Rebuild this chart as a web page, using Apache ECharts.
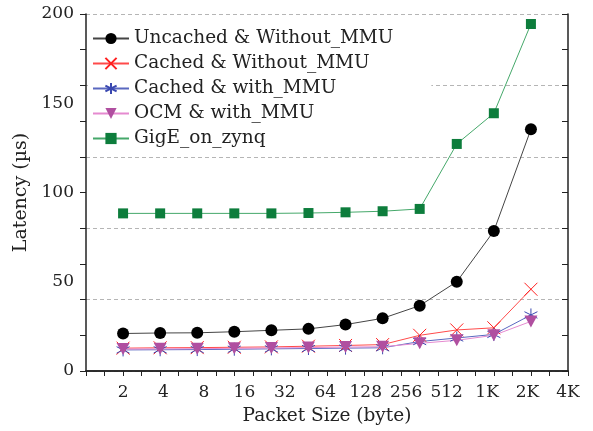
<!DOCTYPE html>
<html>
<head>
<meta charset="utf-8">
<script src="https://cdn.jsdelivr.net/npm/echarts@6/dist/echarts.min.js"></script>
<style>
    html, body { margin: 0; padding: 0; background: #fff; }
    #latency { width: 593px; height: 431px; }
</style>
</head>
<body>
<div id="latency"></div>
<script>
// packet sizes (tick labels on the x axis)
var sizeLabels = ['2', '4', '8', '16', '32', '64', '128', '256', '512', '1K', '2K', '4K'];
// y axis
var yLabelVals = [0, 50, 100, 150, 200];
var yTickVals = [0, 20, 40, 60, 80, 100, 120, 140, 160, 180, 200];

// latency in us, one value per measured point (12 points)
var uncachedNoMmu = [21.0, 21.3, 21.4, 22.0, 22.8, 23.6, 26.0, 29.5, 36.6, 50.0, 78.4, 135.4];
var cachedNoMmu   = [12.8, 13.0, 13.1, 13.3, 13.5, 13.9, 14.3, 14.8, 20.0, 23.0, 24.2, 45.8];
var cachedMmu     = [11.8, 11.9, 12.0, 12.2, 12.4, 12.6, 12.8, 13.0, 16.5, 18.5, 20.5, 31.4];
var ocmMmu        = [12.3, 12.4, 12.5, 12.7, 12.9, 13.1, 13.4, 13.6, 15.5, 17.2, 20.0, 27.8];
var gigeZynq      = [88.3, 88.3, 88.3, 88.3, 88.3, 88.5, 88.9, 89.5, 90.8, 127.2, 144.4, 194.4];

var serif = 'DejaVu Serif';

function pts(arr) {
    var out = [];
    for (var i = 0; i < arr.length; i++) {
        out.push([i + 1, arr[i]]);
    }
    return out;
}

// labels are spread evenly from the first point to the right border
var nPts = uncachedNoMmu.length;
var labelStep = nPts / (sizeLabels.length - 1);
var labelPos = [];
for (var i = 0; i < sizeLabels.length; i++) {
    labelPos.push(1 + i * labelStep);
}
var xTicks = [];
for (var t = 0; t <= (nPts + 1) * 2; t++) {
    xTicks.push(t / 2);
}

var chart = echarts.init(document.getElementById('latency'));
var option = {
    animation: false,
    textStyle: { fontFamily: serif },
    grid: { left: 86, right: 25, top: 14, bottom: 60 },
    legend: {
        orient: 'vertical',
        left: 88,
        top: 24,
        padding: [5, 38, 4, 4],
        backgroundColor: '#fff',
        itemWidth: 36,
        itemHeight: 14,
        itemGap: 6,
        textStyle: { fontFamily: serif, fontSize: 18.5, color: '#222' },
        data: ['Uncached & Without_MMU', 'Cached & Without_MMU', 'Cached & with_MMU', 'OCM & with_MMU', 'GigE_on_zynq']
    },
    xAxis: [
        {
            type: 'value',
            position: 'bottom',
            min: 0,
            max: nPts + 1,
            name: 'Packet Size (byte)',
            nameLocation: 'middle',
            nameGap: 36,
            nameTextStyle: { fontFamily: serif, fontSize: 18.5, color: '#222' },
            axisLine: { lineStyle: { color: '#222', width: 1.5 } },
            axisTick: { inside: false, length: 5, customValues: xTicks, lineStyle: { color: '#222' } },
            axisLabel: {
                customValues: labelPos,
                margin: 13,
                fontFamily: serif,
                fontSize: 17,
                color: '#222',
                formatter: function (v) {
                    return sizeLabels[Math.round((v - 1) / labelStep)];
                }
            },
            splitLine: { show: false }
        },
        {
            type: 'value',
            position: 'top',
            min: 0,
            max: nPts + 1,
            axisLine: { lineStyle: { color: '#222', width: 1.5 } },
            axisTick: { inside: true, length: 5, customValues: xTicks, lineStyle: { color: '#222' } },
            axisLabel: { show: false },
            splitLine: { show: false }
        }
    ],
    yAxis: [
        {
            type: 'value',
            position: 'left',
            min: 0,
            max: 200,
            name: 'Latency (µs)',
            nameLocation: 'middle',
            nameGap: 52,
            nameTextStyle: { fontFamily: serif, fontSize: 19, color: '#222' },
            axisLine: { show: true, lineStyle: { color: '#222', width: 1.5 } },
            axisTick: { show: true, inside: false, length: 6, customValues: yTickVals, lineStyle: { color: '#222' } },
            axisLabel: { customValues: yLabelVals, margin: 12, fontFamily: serif, fontSize: 17, color: '#222' },
            splitLine: { show: false }
        },
        {
            // only used for the dashed grid lines
            type: 'value',
            position: 'left',
            min: 0,
            max: 200,
            interval: 40,
            axisLine: { show: false },
            axisTick: { show: false },
            axisLabel: { show: false },
            splitLine: { show: true, lineStyle: { color: '#b5b5b5', type: [4, 3], width: 1 } }
        },
        {
            type: 'value',
            position: 'right',
            min: 0,
            max: 200,
            axisLine: { show: true, lineStyle: { color: '#222', width: 1.5 } },
            axisTick: { show: true, inside: true, length: 6, customValues: yTickVals, lineStyle: { color: '#222' } },
            axisLabel: { show: false },
            splitLine: { show: false }
        }
    ],
    series: [
        {
            name: 'Uncached & Without_MMU',
            type: 'line',
            data: pts(uncachedNoMmu),
            symbol: 'circle',
            symbolSize: 12,
            lineStyle: { color: '#444', width: 1 },
            itemStyle: { color: '#000' }
        },
        {
            name: 'Cached & Without_MMU',
            type: 'line',
            data: pts(cachedNoMmu),
            symbol: 'path://M0,0L10,10M10,0L0,10',
            symbolSize: 13,
            lineStyle: { color: '#ff4a4a', width: 1 },
            itemStyle: { color: 'rgba(0,0,0,0)', borderColor: '#ff2020', borderWidth: 1 }
        },
        {
            name: 'Cached & with_MMU',
            type: 'line',
            data: pts(cachedMmu),
            symbol: 'path://M5,0L5,10M0.7,2.5L9.3,7.5M0.7,7.5L9.3,2.5',
            symbolSize: 13,
            lineStyle: { color: '#5a68c0', width: 1 },
            itemStyle: { color: 'rgba(0,0,0,0)', borderColor: '#3a48b0', borderWidth: 1 }
        },
        {
            name: 'OCM & with_MMU',
            type: 'line',
            data: pts(ocmMmu),
            symbol: 'triangle',
            symbolRotate: 180,
            symbolSize: [13, 12],
            lineStyle: { color: '#e58ad0', width: 1 },
            itemStyle: { color: '#b04fa0' }
        },
        {
            name: 'GigE_on_zynq',
            type: 'line',
            data: pts(gigeZynq),
            symbol: 'rect',
            symbolSize: 10,
            lineStyle: { color: '#45a86a', width: 1 },
            itemStyle: { color: '#0d7d3c' }
        }
    ]
};
chart.setOption(option);
</script>
</body>
</html>
